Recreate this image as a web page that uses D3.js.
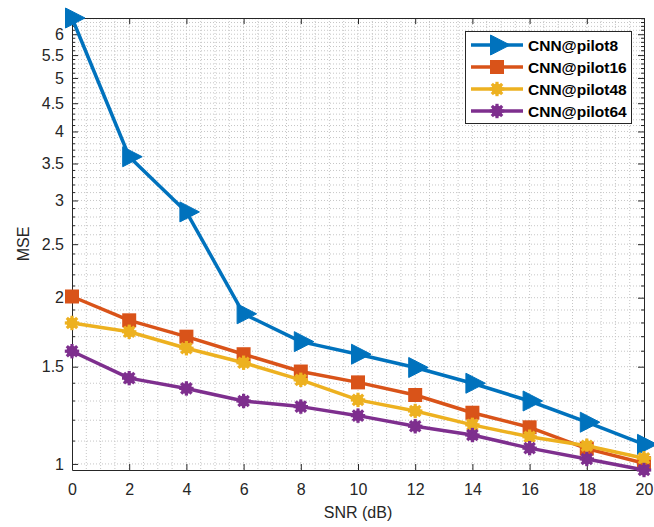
<!DOCTYPE html>
<html><head><meta charset="utf-8">
<script src="https://cdn.jsdelivr.net/npm/d3@7"></script>
<style>
body{margin:0;background:#fff}
text{font-family:"Liberation Sans",Arial,Helvetica,sans-serif}
</style>
</head><body>
<svg id="c" width="654" height="527"></svg>
<script>
const snr = [0, 2, 4, 6, 8, 10, 12, 14, 16, 18, 20];
const pilot8  = [6.42, 3.60, 2.86, 1.87, 1.665, 1.58, 1.495, 1.40, 1.30, 1.19, 1.085];
const pilot16 = [2.01, 1.82, 1.70, 1.58, 1.47, 1.405, 1.333, 1.238, 1.165, 1.066, 1.003];
const pilot48 = [1.80, 1.735, 1.62, 1.525, 1.42, 1.306, 1.247, 1.177, 1.12, 1.079, 1.024];
const pilot64 = [1.60, 1.43, 1.37, 1.30, 1.27, 1.223, 1.17, 1.128, 1.068, 1.021, 0.975];
const seriesNames = ["CNN@pilot8", "CNN@pilot16", "CNN@pilot48", "CNN@pilot64"];
const xTicks = [0, 2, 4, 6, 8, 10, 12, 14, 16, 18, 20];
const yTicks = [1, 1.5, 2, 2.5, 3, 3.5, 4, 4.5, 5, 5.5, 6];
const xLabel = "SNR (dB)";
const yLabel = "MSE";

const colors = ["#0072BD", "#D95319", "#EDB120", "#7E2F8E"];
const markers = ["tri", "square", "star", "star"];
const seriesValues = [pilot8, pilot16, pilot48, pilot64];

const M = {left: 72, right: 644, top: 18, bottom: 470};
const svg = d3.select("#c");
const axisColor = "#262626";

const allVals = seriesValues.flat();
const x = d3.scaleLinear().domain([0, 20]).range([M.left, M.right]);
const y = d3.scaleLog().domain(d3.extent(allVals)).range([M.bottom, M.top]);

// grid
const xGrid = d3.range(0, 20.001, 0.5).filter(v => v > 0 && v < 20);
const yGrid = d3.range(10, 65, 1).map(v => v / 10).filter(v => v >= y.domain()[0] && v <= y.domain()[1]);
const g = svg.append("g");
g.selectAll(".gx").data(xGrid).join("line")
  .attr("x1", d => x(d)).attr("x2", d => x(d)).attr("y1", M.top).attr("y2", M.bottom)
  .attr("stroke", "#c6c6c6").attr("stroke-width", 1).attr("stroke-dasharray", "1,2");
g.selectAll(".gy").data(yGrid).join("line")
  .attr("x1", M.left).attr("x2", M.right).attr("y1", d => y(d)).attr("y2", d => y(d))
  .attr("stroke", "#c6c6c6").attr("stroke-width", 1).attr("stroke-dasharray", "1,2");

// axes
const xAxis = d3.axisBottom(x).tickValues(xTicks).tickFormat(d3.format("d")).tickSizeInner(-6).tickSizeOuter(0).tickPadding(14);
const gx = svg.append("g").attr("transform", `translate(0,${M.bottom})`).call(xAxis);
const yAxis = d3.axisLeft(y).tickValues(yTicks).tickFormat(d => String(d)).tickSizeInner(-6).tickSizeOuter(0).tickPadding(8);
const gy = svg.append("g").attr("transform", `translate(${M.left},0)`).call(yAxis);
const xTop = d3.axisTop(x).tickValues(xTicks).tickFormat("").tickSizeInner(-6).tickSizeOuter(0);
const gxt = svg.append("g").attr("transform", `translate(0,${M.top})`).call(xTop);
const yRight = d3.axisRight(y).tickValues(yTicks).tickFormat("").tickSizeInner(-6).tickSizeOuter(0);
const gyr = svg.append("g").attr("transform", `translate(${M.right},0)`).call(yRight);
[gx, gy, gxt, gyr].forEach(a => {
  a.select(".domain").attr("stroke", axisColor).attr("stroke-width", 1);
  a.selectAll(".tick line").attr("stroke", axisColor);
  a.selectAll("text").attr("fill", axisColor).style("font-size", "16px").attr("font-family", null);
});

// minor y ticks
const yMinor = yGrid.filter(v => !yTicks.some(t => Math.abs(t - v) < 1e-9));
svg.append("g").selectAll("line").data(yMinor).join("line")
  .attr("x1", M.left).attr("x2", M.left + 3).attr("y1", d => y(d)).attr("y2", d => y(d))
  .attr("stroke", axisColor);
svg.append("g").selectAll("line").data(yMinor).join("line")
  .attr("x1", M.right).attr("x2", M.right - 3).attr("y1", d => y(d)).attr("y2", d => y(d))
  .attr("stroke", axisColor);

// labels
svg.append("text").attr("x", (M.left + M.right) / 2).attr("y", 512).attr("dy", "0.35em")
  .attr("text-anchor", "middle").attr("fill", axisColor).style("font-size", "16px").text(xLabel);
svg.append("text").attr("transform", "translate(23,244) rotate(-90)").attr("dy", "0.35em")
  .attr("text-anchor", "middle").attr("fill", axisColor).style("font-size", "16px").text(yLabel);

// markers
function drawMarker(sel, type, color, cx, cy) {
  const gg = sel.append("g").attr("transform", `translate(${cx},${cy})`);
  if (type === "tri") {
    gg.append("path").attr("d", "M-6.5,-10L13,0L-6.5,10Z").attr("fill", color).attr("stroke", color).attr("stroke-width", 1);
  } else if (type === "square") {
    gg.append("rect").attr("x", -7).attr("y", -7).attr("width", 14).attr("height", 14).attr("fill", color);
  } else {
    gg.append("circle").attr("r", 5.5).attr("fill", color);
    const r = 7.2;
    [[0, -r, 0, r], [-r, 0, r, 0], [-r * 0.72, -r * 0.72, r * 0.72, r * 0.72], [-r * 0.72, r * 0.72, r * 0.72, -r * 0.72]]
      .forEach(l => gg.append("line").attr("x1", l[0]).attr("y1", l[1]).attr("x2", l[2]).attr("y2", l[3])
        .attr("stroke", color).attr("stroke-width", 3.2));
  }
}

const line = d3.line().x(d => x(d[0])).y(d => y(d[1]));
seriesValues.forEach((vals, i) => {
  const pts = snr.map((s, j) => [s, vals[j]]);
  const sg = svg.append("g");
  sg.append("path").attr("d", line(pts)).attr("fill", "none").attr("stroke", colors[i])
    .attr("stroke-width", 3.5).attr("stroke-linejoin", "round");
  pts.forEach(p => drawMarker(sg, markers[i], colors[i], x(p[0]), y(p[1])));
});

// legend
const lg = svg.append("g");
lg.append("rect").attr("x", 465.5).attr("y", 31.5).attr("width", 166).attr("height", 92)
  .attr("fill", "#fff").attr("stroke", axisColor).attr("stroke-width", 1);
const legY = [45, 67, 89, 111];
seriesNames.forEach((name, i) => {
  lg.append("line").attr("x1", 471).attr("x2", 523).attr("y1", legY[i]).attr("y2", legY[i])
    .attr("stroke", colors[i]).attr("stroke-width", 3.5);
  drawMarker(lg, markers[i], colors[i], 497, legY[i]);
  lg.append("text").attr("x", 528).attr("y", legY[i]).attr("dy", "0.36em")
    .style("font-size", "15.5px").style("font-weight", "bold").attr("fill", "#000").text(name);
});
</script>
</body></html>
